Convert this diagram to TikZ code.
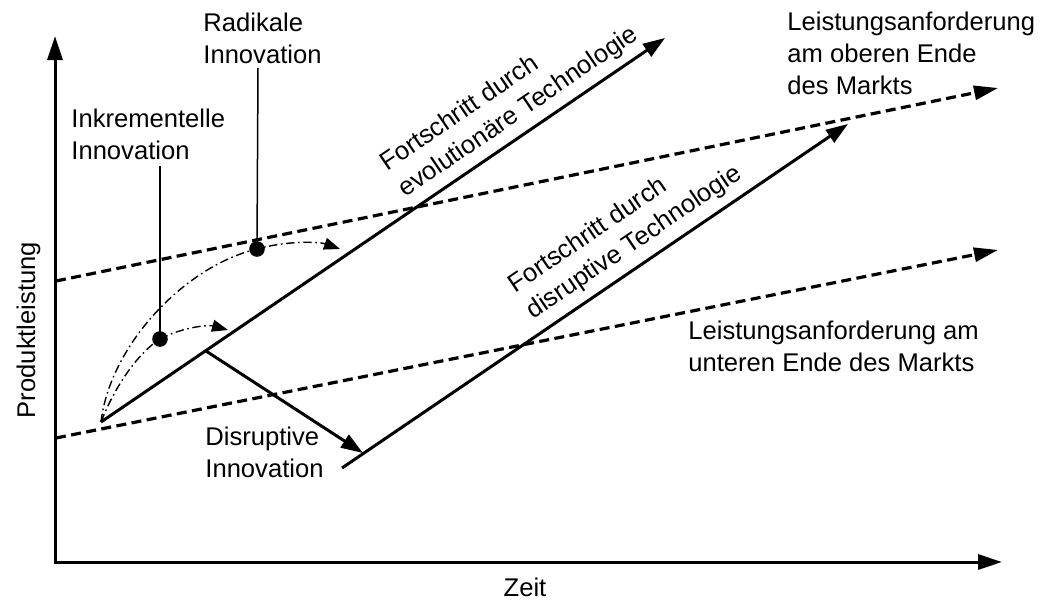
\documentclass[tikz,border=0pt]{standalone}
\usepackage{fontspec}
\setmainfont{Liberation Sans}
\usetikzlibrary{arrows.meta}

\begin{document}
\begin{tikzpicture}[x=0.5pt, y=-0.5pt,
  every node/.style={font=\fontsize{12.8pt}{15.9pt}\selectfont, inner sep=0pt},
  lbl/.style={align=left, anchor=base west},
  bigtip/.style={-{Triangle[length=11pt, width=7.5pt]}},
  heavy/.style={line width=1.5pt, bigtip},
  demand/.style={line width=1.6pt, dash pattern=on 5pt off 2.7pt,
                 -{Triangle[length=12pt, width=7pt]}},
  innov/.style={line width=0.7pt, dash pattern=on 4.2pt off 1.8pt on 0.8pt off 1.8pt,
                -{Triangle[length=8pt, width=6pt]}},
  leader/.style={line width=0.75pt},
  dot/.style={circle, fill=black, minimum size=7.8pt, inner sep=0pt}
]
\useasboundingbox (0,0) rectangle (1040,600);

% axes
\coordinate (O) at (55,562);
\coordinate (ytip) at (55,36);
\coordinate (xtip) at (1002,562);
\draw[line width=1.5pt, line join=miter,
      {Triangle[length=12pt, width=7.5pt]}-{Triangle[length=12pt, width=7.5pt]}]
      (ytip) -- (O) -- (xtip);
\node[rotate=90, anchor=base] (ylab) at (35,330) {Produktleistung};
\node[anchor=base] (xlab) at (525,596) {Zeit};

% market demand lines
\coordinate (hiS) at (56,281);
\coordinate (hiE) at (998,88);
\coordinate (loS) at (56,438);
\coordinate (loE) at (998,250);
\draw[demand] (hiS) -- (hiE);
\draw[demand] (loS) -- (loE);

% technology trajectories
\coordinate (evoS) at (101,422);
\coordinate (evoE) at (665,38);
\coordinate (disS) at (342,468);
\coordinate (disE) at (848,124);
\draw[heavy] (evoS) -- (evoE);
\draw[heavy] (disS) -- (disE);

% disruptive jump
\coordinate (jumpS) at (206,351);
\coordinate (jumpE) at (363,453);
\draw[heavy] (jumpS) -- (jumpE);

% incremental and radical innovation paths
\node[dot] (inc) at (160,339) {};
\node[dot] (rad) at (257,249) {};
\coordinate (incE) at (228,330);
\coordinate (radE) at (340,249);
\draw[innov] (evoS) .. controls (115,386) and (138,353) .. (inc.center)
             .. controls (185,326) and (210,325) .. (incE);
\draw[innov] (evoS) .. controls (110,345) and (185,266) .. (rad.center)
             .. controls (290,240) and (320,242) .. (radE);

% labels (anchored at the baseline of their last line)
\node[lbl] (radlab) at (203,63) {Radikale\\Innovation};
\node[lbl] (inclab) at (71,159) {Inkrementelle\\Innovation};
\node[lbl] (dislab) at (205,477) {Disruptive\\Innovation};
\node[lbl] (hilab) at (787,94) {Leistungsanforderung\\am oberen Ende\\des Markts};
\node[lbl] (lolab) at (688,371) {Leistungsanforderung am\\unteren Ende des Markts};
\node[lbl, rotate=34.25] (evolab) at (405,198) {Fortschritt durch\\evolutionäre Technologie};
\node[lbl, rotate=34.2] (dislab2) at (533,320) {Fortschritt durch\\disruptive Technologie};

% leader lines
\coordinate (incTop) at (160,166);
\coordinate (radTop) at (258,68);
\draw[leader] (inc.center) -- (incTop);
\draw[leader] (rad.center) -- (radTop);
\end{tikzpicture}
\end{document}
